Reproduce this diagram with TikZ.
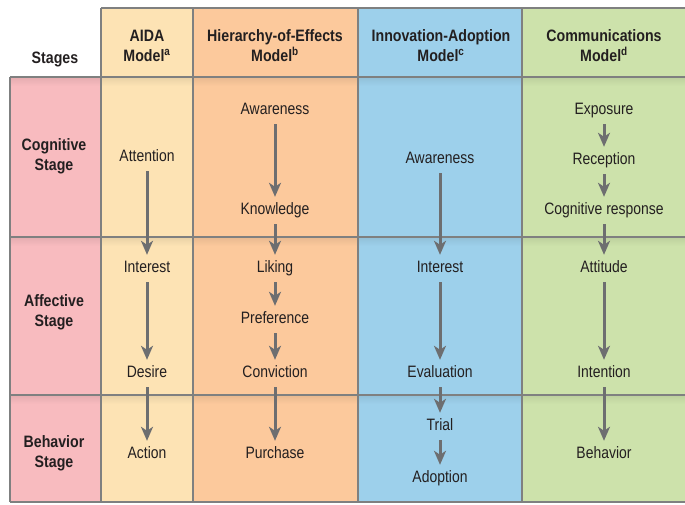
\documentclass[tikz,border=0pt]{standalone}
\usepackage{fontspec}
\setmainfont[FakeStretch=0.845, BoldFeatures={FakeStretch=0.86}]{Liberation Sans}
\usetikzlibrary{arrows.meta}

\definecolor{stagepink}{HTML}{F8BBBF}
\definecolor{aidacol}{HTML}{FDE3B4}
\definecolor{hiercol}{HTML}{FCC99C}
\definecolor{innocol}{HTML}{9DD0EB}
\definecolor{commcol}{HTML}{CDE2AB}
\definecolor{rulegray}{HTML}{7F8080}
\definecolor{arrowgray}{HTML}{6D6E70}
\definecolor{ink}{HTML}{231F20}

% a column band: fill plus soft shadow under each row rule
\newcommand{\bandfill}[4]{%
  \fill[#1] (#2,#3) rectangle (#4,502);
  \foreach \yy in {77,237,395}{
    \shade[top color=#1!92!black, bottom color=#1] (#2,\yy) rectangle (#4,\yy+9);
  }
}

\begin{document}
\begin{tikzpicture}[x=1pt,y=-1pt,
  stepname/.style={font=\fontsize{16.5}{20}\selectfont, text=ink, inner sep=0pt,
    inner ysep=3pt, text height=11pt, text depth=3pt},
  colhead/.style={font=\bfseries\fontsize{16.5}{20}\selectfont, text=ink,
    align=center, inner sep=0pt},
  flow/.style={draw=arrowgray, line width=3pt,
    -{Stealth[length=14pt,width=12pt,inset=4pt]},
    shorten <=4pt, shorten >=3pt},
  rule/.style={draw=rulegray, line width=1.2pt}]

\useasboundingbox (0,0) rectangle (685,504);

% coloured bands
\fill[stagepink] (10,77) rectangle (101,502);
\foreach \yy in {77,237,395}{
  \shade[top color=stagepink!92!black, bottom color=stagepink] (10,\yy) rectangle (101,\yy+9);
}
\bandfill{aidacol}{101}{8}{193}
\bandfill{hiercol}{193}{8}{358}
\bandfill{innocol}{358}{8}{522}
\bandfill{commcol}{522}{8}{685}

% grid rules
\draw[rule] (101,8) -- (685,8);
\foreach \yy in {77,237,395,502}{
  \draw[rule] (10,\yy) -- (685,\yy);
}
\draw[rule] (10,77) -- (10,502);
\foreach \xx in {101,193,358,522}{
  \draw[rule] (\xx,8) -- (\xx,502);
}

% headings
\node[colhead] (hStages) at (55,59) {Stages};
\node[colhead] (hAida) at (147,46) {AIDA\\Model\textsuperscript{a}};
\node[colhead] (hHier) at (275,46) {Hierarchy-of-Effects\\Model\textsuperscript{b}};
\node[colhead] (hInno) at (441,46) {Innovation-Adoption\\Model\textsuperscript{c}};
\node[colhead] (hComm) at (604,46) {Communications\\Model\textsuperscript{d}};

\node[colhead] (sCog) at (54,156) {Cognitive\\Stage};
\node[colhead] (sAff) at (54,312) {Affective\\Stage};
\node[colhead] (sBeh) at (54,453) {Behavior\\Stage};

% AIDA model
\node[stepname] (a1) at (147,157) {Attention};
\node[stepname] (a2) at (147,268) {Interest};
\node[stepname] (a3) at (147,373) {Desire};
\node[stepname] (a4) at (147,454) {Action};
\draw[flow] (a1) -- (a2);
\draw[flow] (a2) -- (a3);
\draw[flow] (a3) -- (a4);

% Hierarchy-of-effects model
\node[stepname] (h1) at (275,110) {Awareness};
\node[stepname] (h2) at (275,210) {Knowledge};
\node[stepname] (h3) at (275,268) {Liking};
\node[stepname] (h4) at (275,319) {Preference};
\node[stepname] (h5) at (275,373) {Conviction};
\node[stepname] (h6) at (275,454) {Purchase};
\draw[flow] (h1) -- (h2);
\draw[flow] (h2) -- (h3);
\draw[flow] (h3) -- (h4);
\draw[flow] (h4) -- (h5);
\draw[flow] (h5) -- (h6);

% Innovation-adoption model
\node[stepname] (i1) at (440,159) {Awareness};
\node[stepname] (i2) at (440,268) {Interest};
\node[stepname] (i3) at (440,373) {Evaluation};
\node[stepname] (i4) at (440,426) {Trial};
\node[stepname] (i5) at (440,478) {Adoption};
\draw[flow] (i1) -- (i2);
\draw[flow] (i2) -- (i3);
\draw[flow] (i3) -- (i4);
\draw[flow] (i4) -- (i5);

% Communications model
\node[stepname] (c1) at (604,110) {Exposure};
\node[stepname] (c2) at (604,160) {Reception};
\node[stepname] (c3) at (604,210) {Cognitive response};
\node[stepname] (c4) at (604,268) {Attitude};
\node[stepname] (c5) at (604,373) {Intention};
\node[stepname] (c6) at (604,454) {Behavior};
\draw[flow] (c1) -- (c2);
\draw[flow] (c2) -- (c3);
\draw[flow] (c3) -- (c4);
\draw[flow] (c4) -- (c5);
\draw[flow] (c5) -- (c6);

\end{tikzpicture}
\end{document}
